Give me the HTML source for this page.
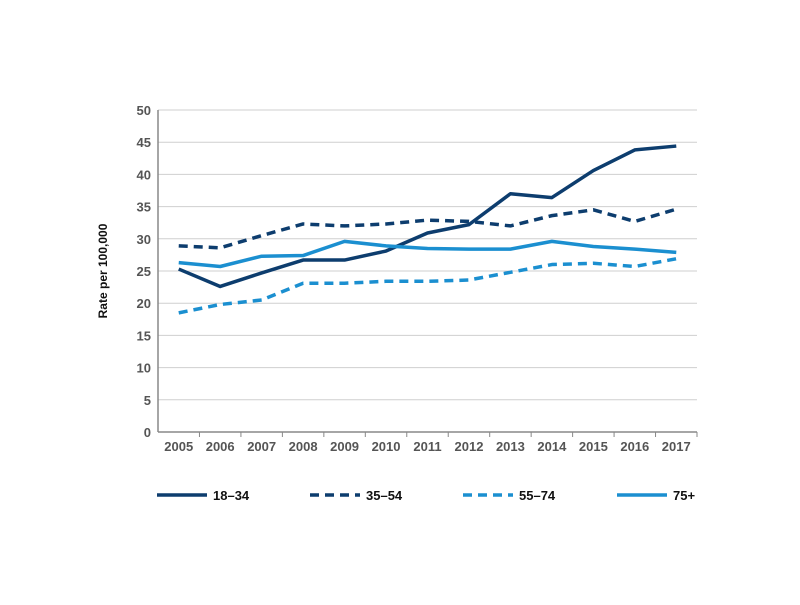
<!DOCTYPE html>
<html><head><meta charset="utf-8"><style>
body{margin:0;background:#fff;font-family:"Liberation Sans",sans-serif}
</style></head><body>
<svg id="c" width="800" height="600" xmlns="http://www.w3.org/2000/svg"></svg>
<script>
const years=["2005","2006","2007","2008","2009","2010","2011","2012","2013","2014","2015","2016","2017"];
const yTicks=[0,5,10,15,20,25,30,35,40,45,50];
const s1834=[25.3,22.6,24.7,26.7,26.7,28.1,30.9,32.2,37.0,36.4,40.6,43.8,44.4];
const s3554=[28.9,28.6,30.5,32.3,32.0,32.3,32.9,32.7,32.0,33.6,34.5,32.7,34.6];
const s5574=[18.5,19.8,20.5,23.1,23.1,23.4,23.4,23.6,24.8,26.0,26.2,25.7,26.9];
const s75=[26.3,25.7,27.3,27.4,29.6,28.9,28.5,28.4,28.4,29.6,28.8,28.4,27.9];
const seriesNames=["18–34","35–54","55–74","75+"];
const NS="http://www.w3.org/2000/svg",svg=document.getElementById('c');
const x0=158,x1=697,y0=432,y1=110,step=(x1-x0)/years.length;
const X=i=>x0+step*(i+0.5), Y=v=>y0-(v/50)*(y0-y1);
function mk(t,a,p){const e=document.createElementNS(NS,t);for(const k in a)e.setAttribute(k,a[k]);(p||svg).appendChild(e);return e;}
yTicks.forEach(v=>{
 if(v>0){const g=mk('line',{x1:x0,x2:x1,y1:Y(v),y2:Y(v),stroke:'#cfcfcf','stroke-width':1});
 
 }
 const t=mk('text',{x:x0-7,y:Y(v)+5,'text-anchor':'end','font-size':13,'font-weight':'bold',fill:'#555'});t.textContent=v;
 
 
});
const ax=mk('line',{x1:x0,x2:x0,y1:y1,y2:y0,stroke:'#888','stroke-width':1.5});


const bx=mk('line',{x1:x0,x2:x1,y1:y0,y2:y0,stroke:'#888','stroke-width':1.5});


years.forEach((yr,i)=>{
 mk('line',{x1:x0+step*(i+1),x2:x0+step*(i+1),y1:y0,y2:y0+5,stroke:'#888'});
 const t=mk('text',{x:X(i),y:y0+19,'text-anchor':'middle','font-size':13,'font-weight':'bold',fill:'#555'});t.textContent=yr;
 
 
});
const yt=mk('text',{x:0,y:0,transform:'translate(107,271) rotate(-90)','text-anchor':'middle','font-size':12,'font-weight':'bold',fill:'#111'});yt.textContent='Rate per 100,000';


const data=[s1834,s3554,s5574,s75];
const cols=['#0d3d6e','#0d3d6e','#1b8fd0','#1b8fd0'];
const dash=['none','9,6','9,6','none'];
const lx=[157,310,463,617];
data.forEach((d,k)=>{
 const p=mk('polyline',{points:d.map((v,i)=>X(i)+','+Y(v)).join(' '),fill:'none',stroke:cols[k],'stroke-width':3.5,'stroke-dasharray':dash[k],'stroke-linejoin':'round'});
 
 
 const l=mk('line',{x1:lx[k],x2:lx[k]+50,y1:495,y2:495,stroke:cols[k],'stroke-width':3.5,'stroke-dasharray':dash[k]});
 
 
 const t=mk('text',{x:lx[k]+56,y:500,'font-size':13,'font-weight':'bold',fill:'#111'});t.textContent=seriesNames[k];
 
 
});
</script>
</body></html>
